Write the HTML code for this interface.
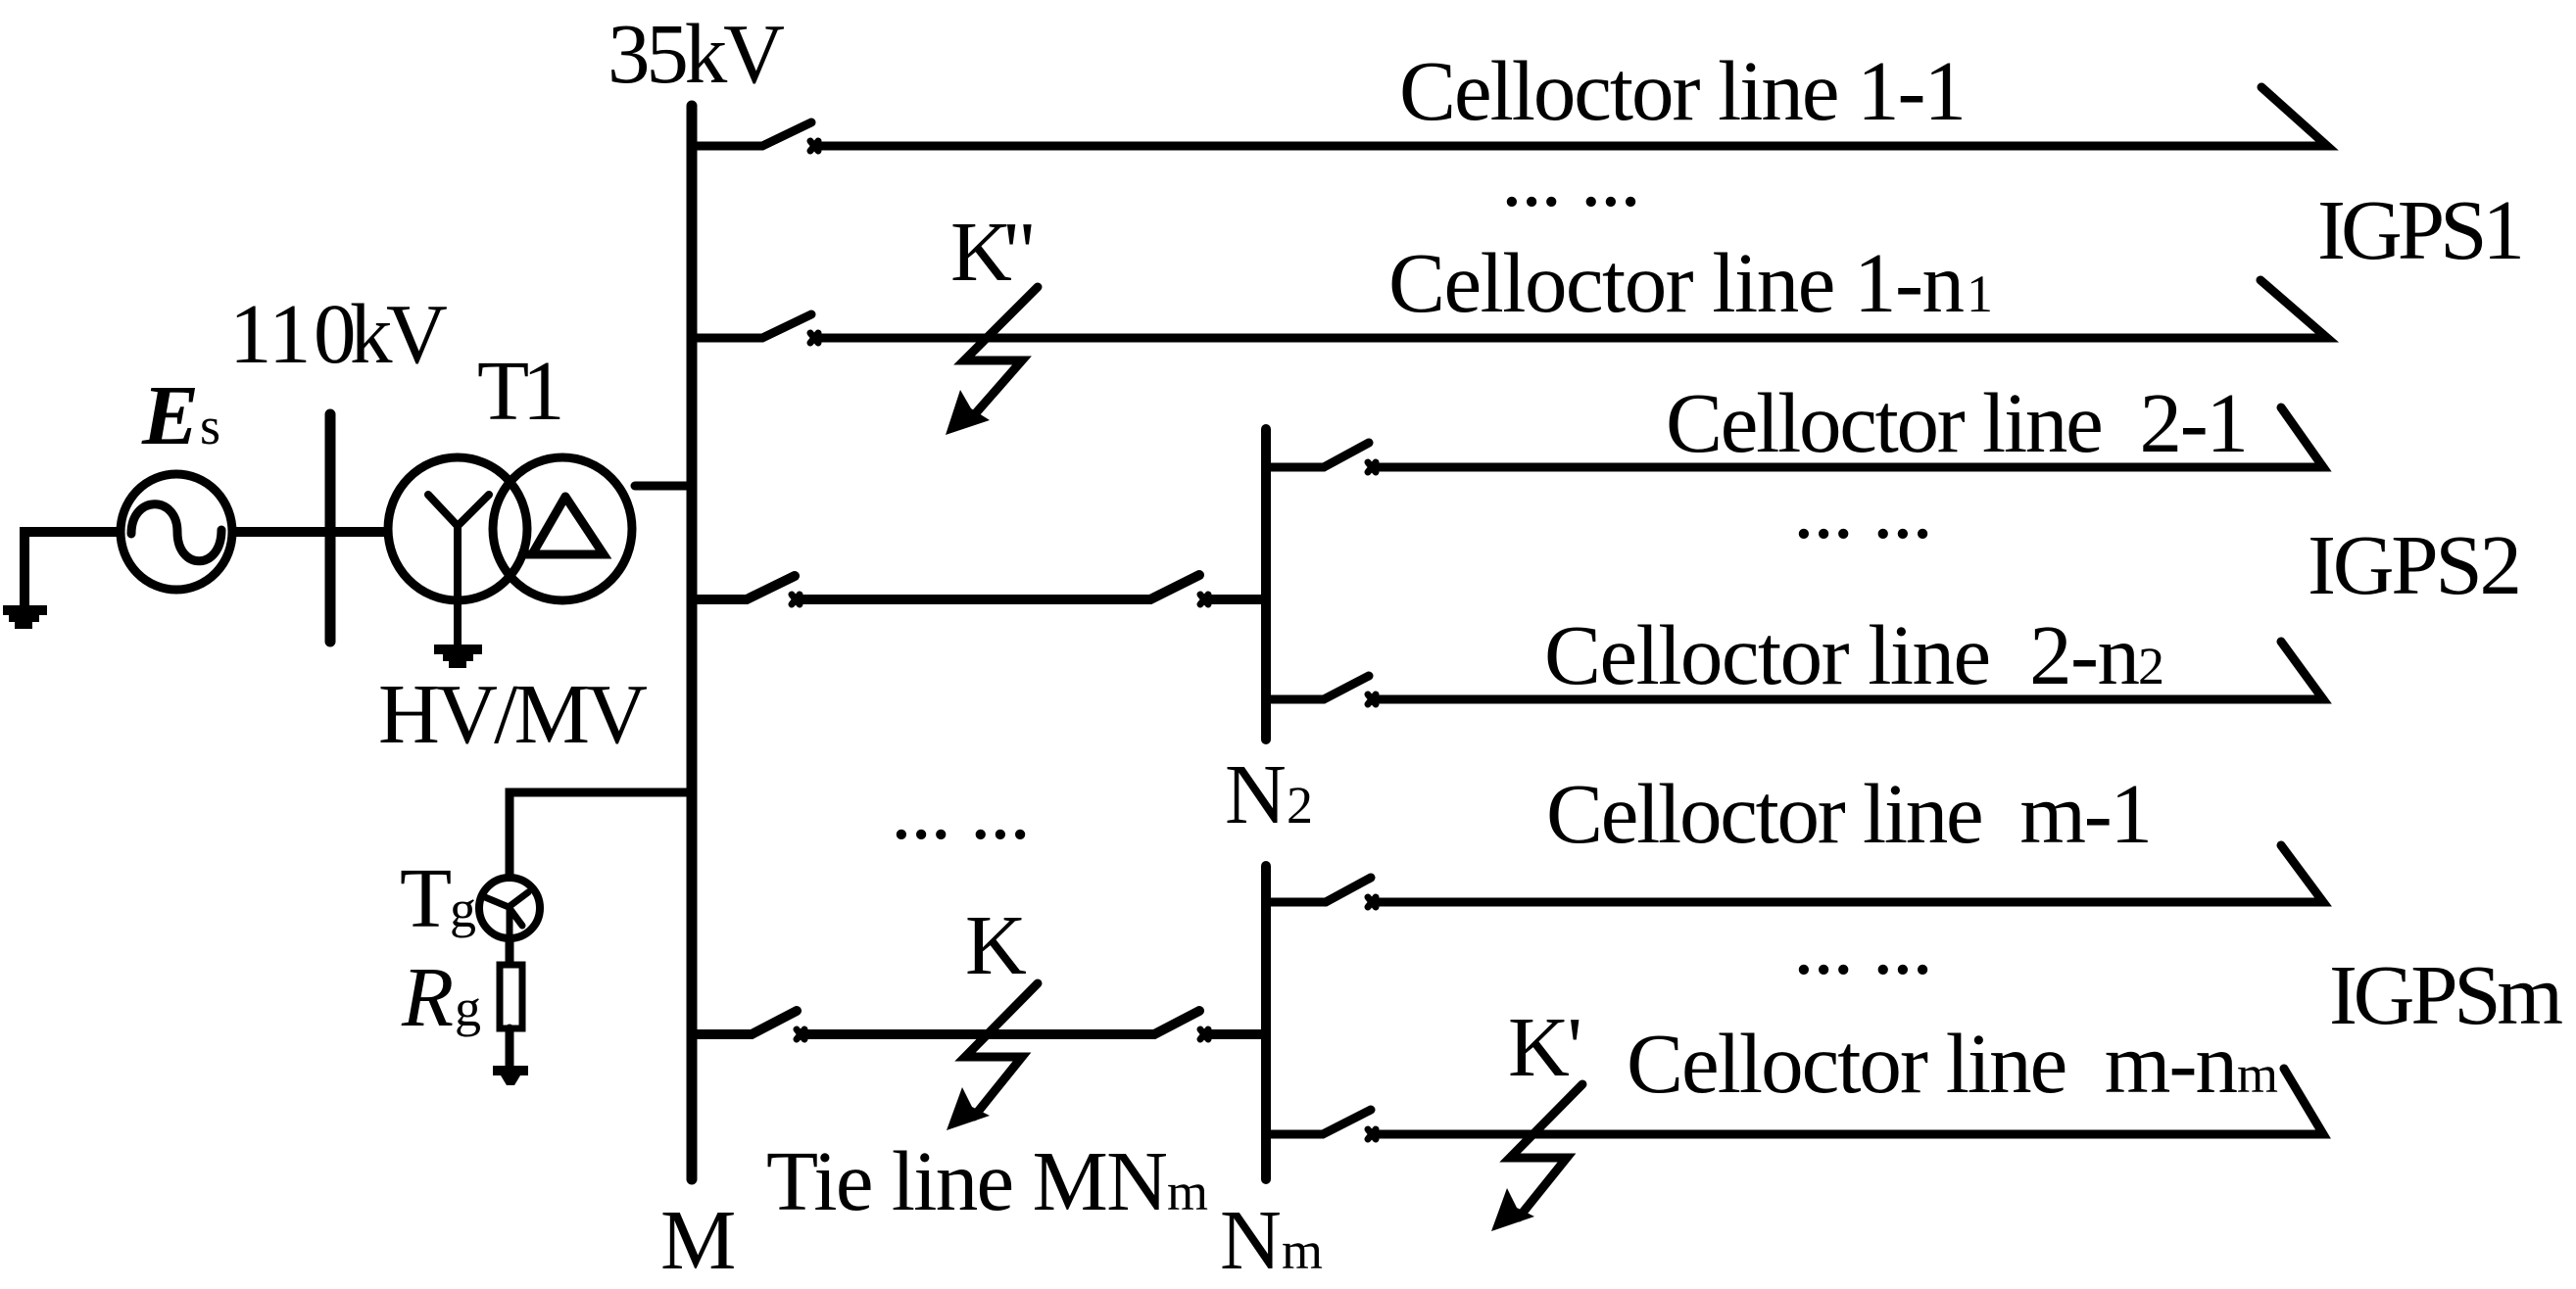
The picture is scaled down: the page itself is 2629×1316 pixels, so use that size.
<!DOCTYPE html>
<html><head><meta charset="utf-8"><style>
html,body{margin:0;padding:0;background:#fff}
svg{display:block}
text{font-family:"Liberation Serif",serif;fill:#000;white-space:pre}
.t{font-size:87px}.s{font-size:54px}
</style></head><body>
<svg xmlns="http://www.w3.org/2000/svg" width="2629" height="1316" viewBox="0 0 2629 1316">
<rect width="2629" height="1316" fill="#fff"/>
<g fill="none" stroke="#000" stroke-width="9" stroke-linecap="round" stroke-linejoin="miter">
<!-- buses -->
<path d="M706 108V1204" stroke-width="11"/>
<path d="M1292 438V755" stroke-width="10"/>
<path d="M1292 884V1204" stroke-width="10"/>
<path d="M337 423V655" stroke-width="11"/>
<!-- source side -->
<path d="M25 621V543H122M238 543H393" stroke-width="10"/>
<ellipse cx="180" cy="543" rx="57" ry="59" stroke-width="9"/>
<path d="M134 545C134 505 181 505 181 543C181 583 226 583 226 541" stroke-width="9"/>
<!-- transformer -->
<ellipse cx="467" cy="540" rx="71" ry="73" stroke-width="9"/>
<ellipse cx="574" cy="540" rx="71" ry="73" stroke-width="9"/>
<path d="M437 505L467 537L499 505M467 537V662" stroke-width="8"/>
<path d="M577 507L616 566H533M577 507L543 566" stroke-width="9"/>
<path d="M648 496H706"/>
<!-- grounding branch -->
<path d="M706 809H520V982M520 1050V1090" stroke-width="9"/>
<circle cx="520" cy="927" r="31" stroke-width="8" fill="#fff"/>
<path d="M495 916L519 926L539 911M519 926L533 945M520 925V958" stroke-width="7"/>
<rect x="510" y="985" width="23" height="65" stroke-width="7"/>
<!-- feeders 1 -->
<path d="M706 149H778L828 125M834 149H2375L2308 89"/>
<path d="M706 345H778L828 321M834 345H2375L2307 286"/>
<!-- tie lines -->
<path d="M706 612H762L811 588M817 612H1174L1224 587M1231 612H1292" stroke-width="10"/>
<path d="M706 1056H767L813 1032M819 1056H1178L1224 1032M1231 1056H1292" stroke-width="10"/>
<!-- feeders 2 -->
<path d="M1292 477H1351L1397 452M1403 477H2371L2328 416"/>
<path d="M1292 714H1351L1397 690M1403 714H2371L2328 655"/>
<path d="M1292 921H1353L1399 896M1403 921H2371L2328 863"/>
<path d="M1292 1158H1350L1399 1133M1403 1158H2371L2331 1091"/>
<!-- x marks -->
<g stroke-width="7">
<path d="M827 144L835 154M835 144L827 154M827 340L835 350M835 340L827 350"/>
<path d="M808 607L816 617M816 607L808 617M1225 607L1233 617M1233 607L1225 617"/>
<path d="M813 1051L821 1061M821 1051L813 1061M1225 1051L1233 1061M1233 1051L1225 1061"/>
<path d="M1396 472L1404 482M1404 472L1396 482M1396 709L1404 719M1404 709L1396 719"/>
<path d="M1396 916L1404 926M1404 916L1396 926M1396 1153L1404 1163M1404 1153L1396 1163"/>
</g>
<!-- fault bolts -->
<path d="M1059 1004L985 1079H1043L994 1140"/>
<path d="M1059 293L984 368H1043L994 424"/>
<path d="M1615 1107L1541 1182H1599L1550 1243"/>
</g>
<g fill="#000" stroke="none">
<path d="M966 1154L982 1110L992 1130L1010 1139Z"/>
<path d="M965 444L980 398L991 417L1010 429Z"/>
<path d="M1522 1257L1538 1213L1548 1233L1566 1242Z"/>
<!-- grounds -->
<path d="M3 618H48V628H40V635H33V642H15V635H9V628H3Z"/>
<path d="M443 658H492V668H483V675H476V682H458V675H452V668H443Z"/>
<path d="M503 1088H539V1098H531L525 1108H517L511 1098H503Z"/>
</g>
<g>
<text class="t" x="620" y="84" textLength="181">35kV</text>
<text class="t" x="234 274 320 357 394" y="370">110kV</text>
<text class="t" x="145" y="453" font-weight="bold" font-style="italic">E</text>
<text class="s" x="204" y="453">s</text>
<text class="t" x="487 533" y="428">T1</text>
<text class="t" x="386" y="758" textLength="275">HV/MV</text>
<text class="t" x="408" y="946">T</text><text class="s" x="459" y="946">g</text>
<text class="t" x="410" y="1047" font-style="italic">R</text><text class="s" x="464" y="1047">g</text>
<text class="t" x="1250" y="840">N</text><text class="s" x="1313" y="840">2</text>
<text class="t" x="1245" y="1295">N</text><text class="s" x="1308" y="1295">m</text>
<text class="t" x="674" y="1295">M</text>
<text class="t" x="985" y="994">K</text>
<text class="t" x="970" y="286" textLength="88">K"</text>
<text class="t" x="1539" y="1098" textLength="76">K'</text>
<text class="t" x="782" y="1235" textLength="410">Tie line MN</text><text class="s" x="1191" y="1235">m</text>
<text class="t" x="1428" y="122" textLength="579">Celloctor line 1-1</text>
<text class="t" x="1417" y="318" textLength="588">Celloctor line 1-n</text><text class="s" x="2007" y="318">1</text>
<text class="t" x="1700" y="461" textLength="595">Celloctor line  2-1</text>
<text class="t" x="1576" y="698" textLength="608">Celloctor line  2-n</text><text class="s" x="2182" y="698">2</text>
<text class="t" x="1578" y="860" textLength="619">Celloctor line  m-1</text>
<text class="t" x="1660" y="1115" textLength="624">Celloctor line  m-n</text><text class="s" x="2283" y="1115">m</text>
<text class="t" x="2365" y="264" textLength="212">IGPS1</text>
<text class="t" x="2355" y="606" textLength="219">IGPS2</text>
<text class="t" x="2377" y="1045" textLength="239">IGPSm</text>
<text class="t" x="1532" y="210" textLength="143">... ...</text>
<text class="t" x="1830" y="549" textLength="143">... ...</text>
<text class="t" x="1830" y="994" textLength="143">... ...</text>
<text class="t" x="909" y="856" textLength="143">... ...</text>
</g>
</svg>
</body></html>
